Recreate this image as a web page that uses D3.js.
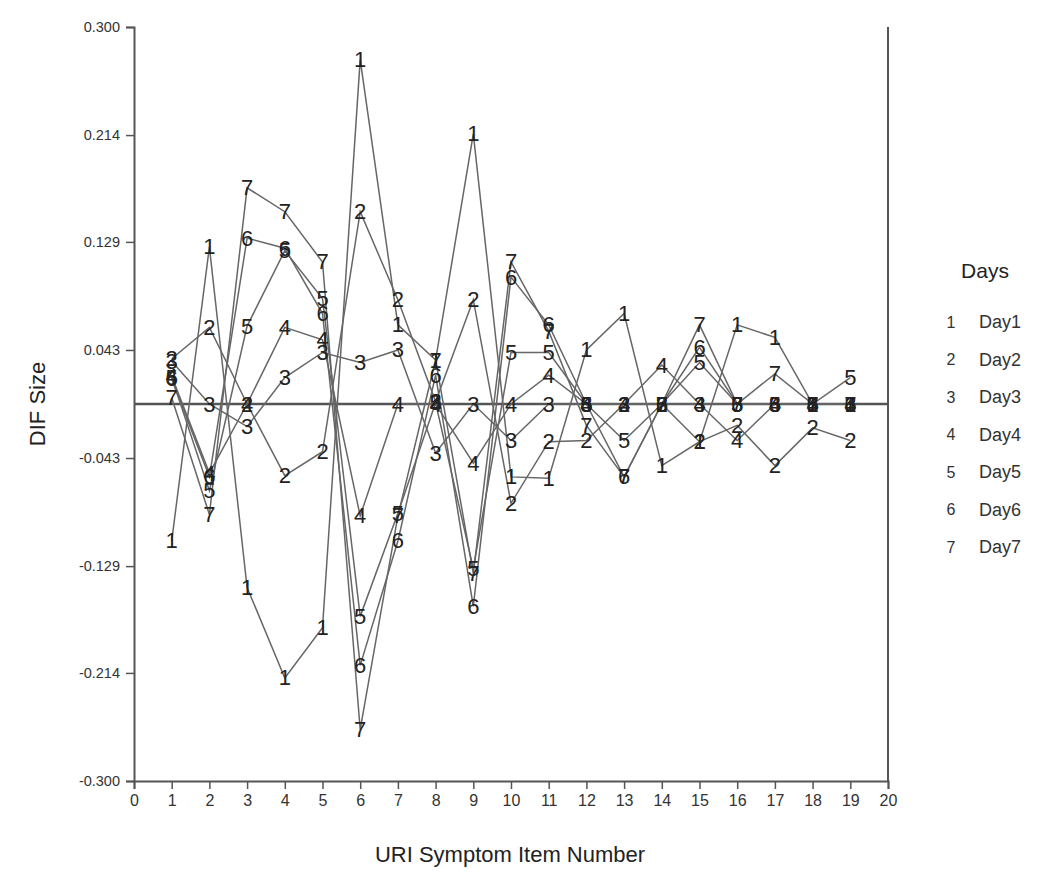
<!DOCTYPE html>
<html>
<head>
<meta charset="utf-8">
<script src="https://cdn.jsdelivr.net/npm/d3@7"></script>
<style>
  html, body { margin: 0; padding: 0; background: #fff; }
  svg { display: block; }
  text { font-family: "Liberation Sans", Arial, sans-serif; }
</style>
</head>
<body>
<svg id="chart" width="1050" height="883"></svg>
<script>
// ---------- data ----------
const items = [1,2,3,4,5,6,7,8,9,10,11,12,13,14,15,16,17,18,19];
const xTicks = d3.range(0, 21);
const yTickValues = [0.300, 0.214, 0.129, 0.043, -0.043, -0.129, -0.214, -0.300];
const yTickLabels = ["0.300", "0.214", "0.129", "0.043", "-0.043", "-0.129", "-0.214", "-0.300"];
const seriesNames = ["Day1","Day2","Day3","Day4","Day5","Day6","Day7"];
const seriesMarks = ["1","2","3","4","5","6","7"];

const day1 = [-0.109, 0.125, -0.146, -0.218, -0.178, 0.274, 0.063, 0.035, 0.215, -0.058, -0.059, 0.043, 0.072, -0.049, -0.030, 0.063, 0.053, 0.000, 0.000];
const day2 = [0.036, 0.061, 0.000, -0.057, -0.038, 0.153, 0.083, 0.002, 0.083, -0.079, -0.030, -0.029, 0.000, 0.000, -0.030, -0.017, -0.049, -0.019, -0.029];
const day3 = [0.034, 0.000, -0.018, 0.021, 0.041, 0.033, 0.043, -0.039, 0.000, -0.029, 0.000, 0.000, 0.000, 0.000, 0.000, 0.000, 0.000, 0.000, 0.000];
const day4 = [0.022, -0.055, 0.000, 0.061, 0.051, -0.089, 0.000, 0.000, -0.047, 0.000, 0.023, 0.000, 0.000, 0.031, 0.000, -0.029, 0.000, 0.000, 0.000];
const day5 = [0.021, -0.069, 0.062, 0.122, 0.084, -0.169, -0.087, 0.001, -0.131, 0.041, 0.041, 0.000, -0.029, 0.000, 0.033, 0.000, 0.000, 0.000, 0.021];
const day6 = [0.020, -0.058, 0.132, 0.124, 0.072, -0.208, -0.109, 0.023, -0.161, 0.101, 0.063, 0.000, -0.058, 0.000, 0.045, 0.000, 0.000, 0.000, 0.000];
const day7 = [0.005, -0.088, 0.172, 0.153, 0.113, -0.259, -0.089, 0.035, -0.135, 0.113, 0.058, -0.017, -0.058, 0.000, 0.063, 0.000, 0.024, 0.000, 0.000];
const allSeries = [day1, day2, day3, day4, day5, day6, day7];

// ---------- chart ----------
const svg = d3.select("#chart");
const padL = 134, padR = 888, padT = 27, padB = 781;

const x = d3.scaleLinear().domain([0, 20]).range([padL, padR]);
const y = d3.scaleLinear().domain([-0.3, 0.3]).range([padB, padT]);

const axisColor = "#555";

// y axis
const yAxis = d3.axisLeft(y)
  .tickValues(yTickValues)
  .tickFormat((d, i) => yTickLabels[i])
  .tickSize(8)
  .tickPadding(6);
const gy = svg.append("g").attr("transform", `translate(${padL},0)`).call(yAxis);
gy.select(".domain").attr("stroke", axisColor).attr("stroke-width", 2);
gy.selectAll(".tick line").attr("stroke", axisColor).attr("stroke-width", 1.5);
gy.selectAll(".tick text").attr("font-size", 14.5).attr("fill", "#333");

// x axis
const xAxis = d3.axisBottom(x)
  .tickValues(xTicks)
  .tickFormat(d3.format("d"))
  .tickSize(8)
  .tickPadding(6);
const gx = svg.append("g").attr("transform", `translate(0,${padB})`).call(xAxis);
gx.select(".domain").attr("stroke", axisColor).attr("stroke-width", 2);
gx.selectAll(".tick line").attr("stroke", axisColor).attr("stroke-width", 1.5);
gx.selectAll(".tick text").attr("font-size", 16).attr("fill", "#333");

// right border
svg.append("line")
  .attr("x1", padR).attr("x2", padR)
  .attr("y1", padT).attr("y2", padB)
  .attr("stroke", axisColor).attr("stroke-width", 2);

// zero reference line
svg.append("line")
  .attr("x1", padL).attr("x2", padR)
  .attr("y1", y(0)).attr("y2", y(0))
  .attr("stroke", "#555").attr("stroke-width", 2.5);

// series lines
const line = d3.line().x((d, i) => x(items[i])).y(d => y(d));
allSeries.forEach((s, k) => {
  svg.append("path")
    .datum(s)
    .attr("d", line)
    .attr("fill", "none")
    .attr("stroke", "#666")
    .attr("stroke-width", 1.5);
});

// series markers (digits)
allSeries.forEach((s, k) => {
  svg.append("g").selectAll("text")
    .data(s)
    .join("text")
    .attr("x", (d, i) => x(items[i]))
    .attr("y", d => y(d))
    .attr("text-anchor", "middle")
    .attr("dominant-baseline", "central")
    .attr("font-size", 22)
    .attr("fill", "#222")
    .text(seriesMarks[k]);
});

// axis titles
svg.append("text")
  .attr("x", 510).attr("y", 862)
  .attr("text-anchor", "middle")
  .attr("font-size", 22)
  .attr("fill", "#222")
  .text("URI Symptom Item Number");

svg.append("text")
  .attr("transform", `translate(45,${y(0)}) rotate(-90)`)
  .attr("text-anchor", "middle")
  .attr("font-size", 22)
  .attr("fill", "#222")
  .text("DIF Size");

// legend
const lg = svg.append("g");
lg.append("text")
  .attr("x", 985).attr("y", 270)
  .attr("text-anchor", "middle")
  .attr("dominant-baseline", "central")
  .attr("font-size", 21)
  .attr("fill", "#222")
  .text("Days");
seriesNames.forEach((name, k) => {
  const yy = 322 + k * 37.5;
  lg.append("text")
    .attr("x", 951).attr("y", yy)
    .attr("text-anchor", "middle")
    .attr("dominant-baseline", "central")
    .attr("font-size", 16)
    .attr("fill", "#333")
    .text(seriesMarks[k]);
  lg.append("text")
    .attr("x", 979).attr("y", yy)
    .attr("text-anchor", "start")
    .attr("dominant-baseline", "central")
    .attr("font-size", 18)
    .attr("fill", "#333")
    .text(name);
});
</script>
</body>
</html>
